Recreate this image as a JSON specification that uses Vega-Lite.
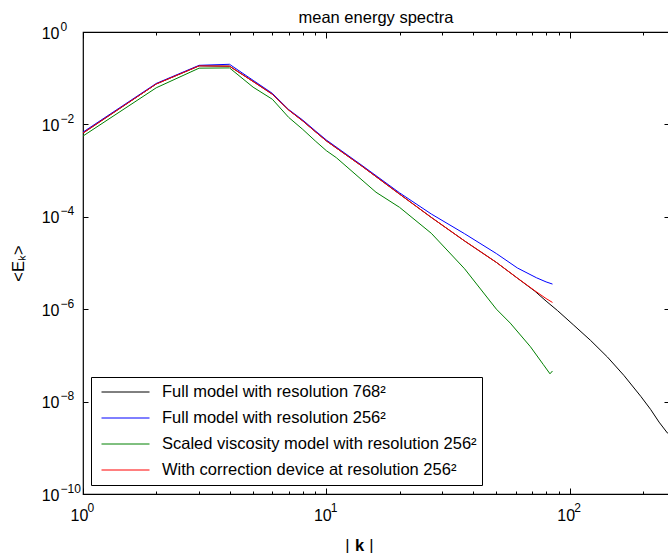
{
  "$schema": "https://vega.github.io/schema/vega-lite/v6.json",
  "width": 586,
  "height": 462,
  "autosize": {"type": "none"},
  "padding": {"left": 83, "top": 32, "right": 0, "bottom": 59},
  "title": {"text": "mean energy spectra", "fontSize": 16.5, "font": "Liberation Sans", "fontWeight": "normal", "color": "black", "offset": -6, "anchor": "middle"},
  "config": {
    "view": {"stroke": "black", "strokeWidth": 1.2},
    "font": "Liberation Sans",
    "axis": {"domain": false, "grid": false, "tickColor": "black", "tickWidth": 1, "labelColor": "black", "titleColor": "black", "labelFont": "Liberation Sans", "titleFont": "Liberation Sans", "labelFlush": false, "labelOverlap": false, "labelBound": false}
  },
  "data": {"values": [
    {"series": "Full model with resolution 768²", "k": 1, "E": 0.0065},
    {"series": "Full model with resolution 768²", "k": 2, "E": 0.075},
    {"series": "Full model with resolution 768²", "k": 3, "E": 0.185},
    {"series": "Full model with resolution 768²", "k": 4, "E": 0.182},
    {"series": "Full model with resolution 768²", "k": 5, "E": 0.085},
    {"series": "Full model with resolution 768²", "k": 6, "E": 0.045},
    {"series": "Full model with resolution 768²", "k": 7, "E": 0.0205},
    {"series": "Full model with resolution 768²", "k": 8, "E": 0.0119},
    {"series": "Full model with resolution 768²", "k": 9, "E": 0.007},
    {"series": "Full model with resolution 768²", "k": 10, "E": 0.0044},
    {"series": "Full model with resolution 768²", "k": 14, "E": 0.00125},
    {"series": "Full model with resolution 768²", "k": 20, "E": 0.00031},
    {"series": "Full model with resolution 768²", "k": 27, "E": 0.000097},
    {"series": "Full model with resolution 768²", "k": 37, "E": 0.00003},
    {"series": "Full model with resolution 768²", "k": 50, "E": 0.0000103},
    {"series": "Full model with resolution 768²", "k": 61, "E": 0.0000047},
    {"series": "Full model with resolution 768²", "k": 72, "E": 0.00000245},
    {"series": "Full model with resolution 768²", "k": 80, "E": 0.0000015},
    {"series": "Full model with resolution 768²", "k": 89, "E": 0.00000094},
    {"series": "Full model with resolution 768²", "k": 104, "E": 0.00000045},
    {"series": "Full model with resolution 768²", "k": 122, "E": 0.00000021},
    {"series": "Full model with resolution 768²", "k": 143, "E": 0.000000092},
    {"series": "Full model with resolution 768²", "k": 167, "E": 0.000000037},
    {"series": "Full model with resolution 768²", "k": 196, "E": 0.000000013},
    {"series": "Full model with resolution 768²", "k": 215, "E": 0.0000000068},
    {"series": "Full model with resolution 768²", "k": 233, "E": 0.0000000036},
    {"series": "Full model with resolution 768²", "k": 252, "E": 0.0000000021},
    {"series": "Full model with resolution 768²", "k": 256, "E": 0.000000002},
    {"series": "Full model with resolution 256²", "k": 1, "E": 0.0068},
    {"series": "Full model with resolution 256²", "k": 2, "E": 0.077},
    {"series": "Full model with resolution 256²", "k": 3, "E": 0.19},
    {"series": "Full model with resolution 256²", "k": 4, "E": 0.2},
    {"series": "Full model with resolution 256²", "k": 5, "E": 0.09},
    {"series": "Full model with resolution 256²", "k": 6, "E": 0.047},
    {"series": "Full model with resolution 256²", "k": 7, "E": 0.021},
    {"series": "Full model with resolution 256²", "k": 8, "E": 0.0124},
    {"series": "Full model with resolution 256²", "k": 9, "E": 0.0073},
    {"series": "Full model with resolution 256²", "k": 10, "E": 0.0046},
    {"series": "Full model with resolution 256²", "k": 14, "E": 0.0013},
    {"series": "Full model with resolution 256²", "k": 20, "E": 0.00033},
    {"series": "Full model with resolution 256²", "k": 27, "E": 0.000115},
    {"series": "Full model with resolution 256²", "k": 37, "E": 0.000043},
    {"series": "Full model with resolution 256²", "k": 50, "E": 0.000016},
    {"series": "Full model with resolution 256²", "k": 61, "E": 0.0000078},
    {"series": "Full model with resolution 256²", "k": 73, "E": 0.0000048},
    {"series": "Full model with resolution 256²", "k": 80, "E": 0.0000039},
    {"series": "Full model with resolution 256²", "k": 85, "E": 0.0000035},
    {"series": "Scaled viscosity model with resolution 256²", "k": 1, "E": 0.0056},
    {"series": "Scaled viscosity model with resolution 256²", "k": 2, "E": 0.062},
    {"series": "Scaled viscosity model with resolution 256²", "k": 3, "E": 0.165},
    {"series": "Scaled viscosity model with resolution 256²", "k": 4, "E": 0.167},
    {"series": "Scaled viscosity model with resolution 256²", "k": 5, "E": 0.064},
    {"series": "Scaled viscosity model with resolution 256²", "k": 6, "E": 0.035},
    {"series": "Scaled viscosity model with resolution 256²", "k": 7, "E": 0.0142},
    {"series": "Scaled viscosity model with resolution 256²", "k": 8, "E": 0.0078},
    {"series": "Scaled viscosity model with resolution 256²", "k": 9, "E": 0.0044},
    {"series": "Scaled viscosity model with resolution 256²", "k": 10, "E": 0.0027},
    {"series": "Scaled viscosity model with resolution 256²", "k": 11, "E": 0.0019},
    {"series": "Scaled viscosity model with resolution 256²", "k": 16, "E": 0.00034},
    {"series": "Scaled viscosity model with resolution 256²", "k": 20, "E": 0.00016},
    {"series": "Scaled viscosity model with resolution 256²", "k": 27, "E": 0.000044},
    {"series": "Scaled viscosity model with resolution 256²", "k": 37, "E": 0.0000075},
    {"series": "Scaled viscosity model with resolution 256²", "k": 50, "E": 0.000001},
    {"series": "Scaled viscosity model with resolution 256²", "k": 57, "E": 0.0000005},
    {"series": "Scaled viscosity model with resolution 256²", "k": 69, "E": 0.000000154},
    {"series": "Scaled viscosity model with resolution 256²", "k": 78, "E": 0.000000063},
    {"series": "Scaled viscosity model with resolution 256²", "k": 83, "E": 0.00000004},
    {"series": "Scaled viscosity model with resolution 256²", "k": 85, "E": 0.000000046},
    {"series": "With correction device at resolution 256²", "k": 1, "E": 0.0065},
    {"series": "With correction device at resolution 256²", "k": 2, "E": 0.075},
    {"series": "With correction device at resolution 256²", "k": 3, "E": 0.185},
    {"series": "With correction device at resolution 256²", "k": 4, "E": 0.182},
    {"series": "With correction device at resolution 256²", "k": 5, "E": 0.085},
    {"series": "With correction device at resolution 256²", "k": 6, "E": 0.045},
    {"series": "With correction device at resolution 256²", "k": 7, "E": 0.0205},
    {"series": "With correction device at resolution 256²", "k": 8, "E": 0.0119},
    {"series": "With correction device at resolution 256²", "k": 9, "E": 0.007},
    {"series": "With correction device at resolution 256²", "k": 10, "E": 0.0044},
    {"series": "With correction device at resolution 256²", "k": 14, "E": 0.00125},
    {"series": "With correction device at resolution 256²", "k": 20, "E": 0.00031},
    {"series": "With correction device at resolution 256²", "k": 27, "E": 0.000097},
    {"series": "With correction device at resolution 256²", "k": 37, "E": 0.00003},
    {"series": "With correction device at resolution 256²", "k": 50, "E": 0.0000103},
    {"series": "With correction device at resolution 256²", "k": 61, "E": 0.0000047},
    {"series": "With correction device at resolution 256²", "k": 72, "E": 0.0000025},
    {"series": "With correction device at resolution 256²", "k": 80, "E": 0.0000017},
    {"series": "With correction device at resolution 256²", "k": 85, "E": 0.0000014}
  ]},
  "layer": [
    {
      "mark": {"type": "line", "strokeWidth": 1},
      "encoding": {
        "x": {"field": "k", "type": "quantitative", "scale": {"type": "log", "domain": [1, 256], "nice": false},
          "axis": {"orient": "bottom", "values": [1, 10, 100], "ticks": false, "labelExpr": "'10'", "labelFontSize": 16, "labelPadding": 13, "labelOffset": -4, "labelBaseline": "top",
            "title": "|", "titleFontSize": 16.5, "titleFontWeight": "normal", "titleX": 264, "titleY": 56, "titleBaseline": "alphabetic", "titleAlign": "center"}},
        "y": {"field": "E", "type": "quantitative", "scale": {"type": "log", "domain": [1e-10, 1], "nice": false},
          "axis": {"orient": "left", "values": [1, 0.01, 0.0001, 1e-6, 1e-8, 1e-10], "ticks": false, "labelExpr": "'10'", "labelFontSize": 16, "labelPadding": 24, "labelAlign": "right", "labelBaseline": "middle", "labelOffset": 1,
            "title": "<Eₖ>", "titleFontSize": 16.5, "titleFontWeight": "normal", "titleX": -60, "titleY": 231, "titleAngle": -90, "titleAlign": "center", "titleBaseline": "alphabetic"}},
        "color": {"field": "series", "type": "nominal",
          "scale": {"domain": ["Full model with resolution 768²", "Full model with resolution 256²", "Scaled viscosity model with resolution 256²", "With correction device at resolution 256²"], "range": ["#000000", "#0000ff", "#008000", "#ff0000"]},
          "legend": {"title": null, "orient": "none", "legendX": 8, "legendY": 345, "symbolType": "stroke", "symbolSize": 2304, "symbolStrokeWidth": 1, "clipHeight": 20, "rowPadding": 6, "labelFontSize": 16.5, "labelFont": "Liberation Sans", "labelColor": "black", "labelOffset": 12, "symbolOffset": 5, "padding": 5, "strokeColor": "black", "fillColor": "white", "labelLimit": 0}}
      }
    },
    {
      "data": {"values": [{"k": 1, "E": 1}]},
      "mark": {"type": "point", "opacity": 0},
      "encoding": {
        "x": {"field": "k", "type": "quantitative", "scale": {"type": "log", "domain": [1, 256], "nice": false},
          "axis": {"orient": "bottom", "values": [1, 10, 100], "ticks": false, "labelExpr": "'' + round(log(datum.value)/LN10)", "labelFontSize": 12, "labelPadding": 8, "labelOffset": 4, "labelAlign": "left", "labelBaseline": "top",
            "title": "k", "titleFontSize": 16.5, "titleFontWeight": "bold", "titleX": 276, "titleY": 56, "titleBaseline": "alphabetic", "titleAlign": "center"}},
        "y": {"field": "E", "type": "quantitative", "scale": {"type": "log", "domain": [1e-10, 1], "nice": false},
          "axis": {"orient": "left", "values": [1, 0.01, 0.0001, 1e-6, 1e-8, 1e-10], "ticks": false, "labelExpr": "datum.value >= 1 ? '0' : '−' + round(-log(datum.value)/LN10)", "labelFontSize": 12, "labelPadding": 23, "labelAlign": "left", "labelBaseline": "middle", "labelOffset": -6, "title": null}}
      }
    },
    {
      "data": {"values": [{"k": 1, "E": 1}]},
      "mark": {"type": "point", "opacity": 0},
      "encoding": {
        "x": {"field": "k", "type": "quantitative", "scale": {"type": "log", "domain": [1, 256], "nice": false},
          "axis": {"orient": "bottom", "values": [1, 10, 100], "labels": false, "tickSize": -6,
            "title": "|", "titleFontSize": 16.5, "titleFontWeight": "normal", "titleX": 288, "titleY": 56, "titleBaseline": "alphabetic", "titleAlign": "center"}},
        "y": {"field": "E", "type": "quantitative", "scale": {"type": "log", "domain": [1e-10, 1], "nice": false},
          "axis": {"orient": "left", "values": [1, 0.01, 0.0001, 1e-6, 1e-8, 1e-10], "labels": false, "tickSize": -5, "title": null}}
      }
    },
    {
      "data": {"values": [{"k": 1, "E": 1}]},
      "mark": {"type": "point", "opacity": 0},
      "encoding": {
        "x": {"field": "k", "type": "quantitative", "scale": {"type": "log", "domain": [1, 256], "nice": false},
          "axis": {"orient": "bottom", "values": [2, 3, 4, 5, 6, 7, 8, 9, 20, 30, 40, 50, 60, 70, 80, 90, 200], "labels": false, "tickSize": -3, "title": null}},
        "y": {"field": "E", "type": "quantitative", "scale": {"type": "log", "domain": [1e-10, 1], "nice": false},
          "axis": {"orient": "right", "values": [1, 0.01, 0.0001, 1e-6, 1e-8, 1e-10], "labels": false, "tickSize": -5, "title": null}}
      }
    },
    {
      "data": {"values": [{"k": 1, "E": 1}]},
      "mark": {"type": "point", "opacity": 0},
      "encoding": {
        "x": {"field": "k", "type": "quantitative", "scale": {"type": "log", "domain": [1, 256], "nice": false},
          "axis": {"orient": "top", "values": [1, 10, 100], "labels": false, "tickSize": -6, "title": null}},
        "y": {"field": "E", "type": "quantitative", "scale": {"type": "log", "domain": [1e-10, 1], "nice": false}, "axis": null}
      }
    },
    {
      "data": {"values": [{"k": 1, "E": 1}]},
      "mark": {"type": "point", "opacity": 0},
      "encoding": {
        "x": {"field": "k", "type": "quantitative", "scale": {"type": "log", "domain": [1, 256], "nice": false},
          "axis": {"orient": "top", "values": [2, 3, 4, 5, 6, 7, 8, 9, 20, 30, 40, 50, 60, 70, 80, 90, 200], "labels": false, "tickSize": -3, "title": null}},
        "y": {"field": "E", "type": "quantitative", "scale": {"type": "log", "domain": [1e-10, 1], "nice": false}, "axis": null}
      }
    }
  ],
  "resolve": {"axis": {"x": "independent", "y": "independent"}}
}
